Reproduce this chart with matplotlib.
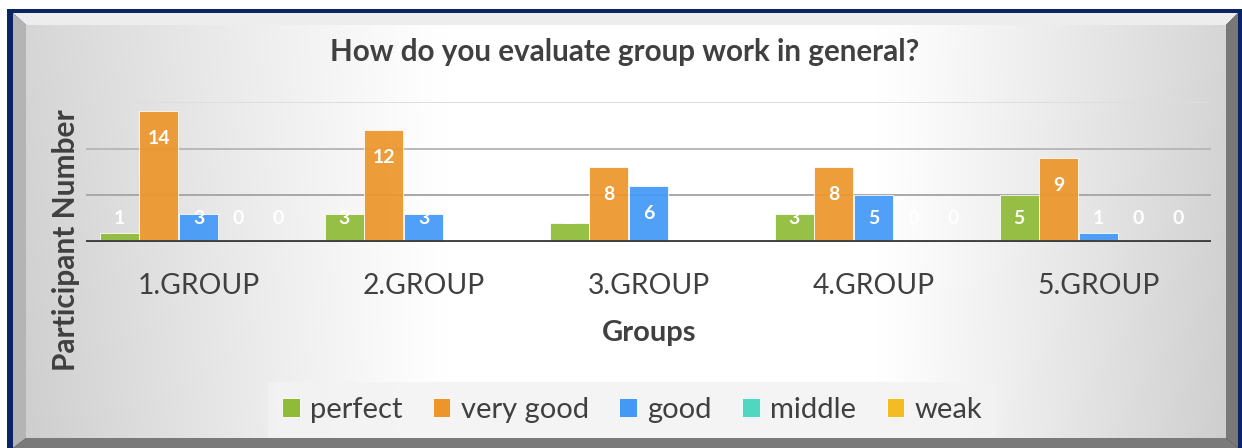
import numpy as np
import matplotlib
matplotlib.use("Agg")
import matplotlib.pyplot as plt
from matplotlib.patches import Polygon, Rectangle, Patch

plt.rcParams['font.family'] = ['Lato', 'DejaVu Sans']

# ---- data ----
groups = ["1.GROUP", "2.GROUP", "3.GROUP", "4.GROUP", "5.GROUP"]
series = ["perfect", "very good", "good", "middle", "weak"]
perfect = [1, 3, 2, 3, 5]
very_good = [14, 12, 8, 8, 9]
good = [3, 3, 6, 5, 1]
middle = [0, 0, 0, 0, 0]
weak = [0, 0, 0, 0, 0]
values = [perfect, very_good, good, middle, weak]
colors = ["#8fbb38", "#ec962a", "#4499f7", "#4fd8bf", "#f3bc22"]

W, H = 1242, 448
fig = plt.figure(figsize=(W / 100, H / 100), dpi=100)

# ---- framed, bevelled background in pixel coordinates ----
bg = fig.add_axes([0, 0, 1, 1])
bg.set_xlim(0, W)
bg.set_ylim(H, 0)
bg.axis("off")

# inner panel gradient: grey at the sides, white plateau in the middle
xs = np.linspace(0, 1, 600)
ys = np.linspace(0, 1, 120)
X, Y = np.meshgrid(xs, ys)
dist = np.where(X < 0.53, (0.35 - X) / 0.35, (X - 0.71) / 0.29)
dist = np.clip(dist, 0, 1)
shade = 1 - 0.16 * dist ** 1.1 - 0.03 * Y * dist
img = np.dstack([shade, shade, shade])
bg.imshow(img, extent=(26, 1226, 438, 25), aspect="auto", zorder=0,
          interpolation="bilinear")

navy = "#0b2462"
bg.add_patch(Rectangle((7, 9), W - 7, H - 9, facecolor=navy, zorder=-1))
# bevel edges
bg.add_patch(Polygon([(13, 13), (1238, 13), (1226, 25), (26, 25)],
                     closed=True, facecolor="#ededed", zorder=1))
bg.add_patch(Polygon([(13, 13), (26, 25), (26, 438), (13, H)],
                     closed=True, facecolor="#b4b4b4", zorder=1))
bg.add_patch(Polygon([(1238, 13), (1238, H), (1226, 438), (1226, 25)],
                     closed=True, facecolor="#787878", zorder=1))
bg.add_patch(Polygon([(26, 438), (1226, 438), (1238, H), (13, H)],
                     closed=True, facecolor="#7a7a7a", zorder=1))

# ---- bar chart ----
left, right = 86 / W, 1211 / W
bottom, top = (H - 242) / H, (H - 102) / H
ax = fig.add_axes([left, bottom, right - left, top - bottom])
ax.set_facecolor("none")

x = np.arange(len(groups))
bw = 0.176
for i, (name, vals, c) in enumerate(zip(series, values, colors)):
    pos = x + (i - 2) * bw
    ax.bar(pos, vals, width=bw * 0.98, color=c, alpha=0.93,
           edgecolor="#ffffff", linewidth=0.6, zorder=3, label=name)
    for px, v in zip(pos, vals):
        ax.text(px, max(v - 2.9, 2.47), str(v), ha="center", va="center",
                color="white", fontsize=14, fontweight="bold", zorder=5)

ax.set_xlim(-0.5, len(groups) - 0.5)
ax.set_ylim(0, 15)
for gy, gc in [(5, "#a8a8a8"), (10, "#b8b8b8"), (15, "#dedede")]:
    ax.axhline(gy, color=gc, lw=1.4, zorder=1)
ax.axhline(0, color="#404040", lw=2.8, zorder=6)
for s in ax.spines.values():
    s.set_visible(False)
ax.set_yticks([])
ax.set_xticks(x)
ax.set_xticklabels(groups, fontsize=20.3, color="#404040")
ax.tick_params(axis="x", length=0, pad=22)

fig.text(625 / W, 1 - 52 / H, "How do you evaluate group work in general?",
         ha="center", va="center", fontsize=21.3, fontweight="bold",
         color="#404040")
fig.text(66 / W, 1 - 240 / H, "Participant Number", rotation=90,
         ha="center", va="center", fontsize=21.5, fontweight="bold",
         color="#404040")
fig.text(649 / W, 1 - 333 / H, "Groups", ha="center", va="center",
         fontsize=21, fontweight="bold", color="#404040")

handles = [Patch(facecolor=c, edgecolor="#ffffff", linewidth=0.6, label=n)
           for n, c in zip(series, colors)]
leg = fig.legend(handles=handles, loc="center", ncol=5,
                 bbox_to_anchor=(632 / W, 1 - 410 / H), frameon=True,
                 fontsize=21, handlelength=0.6, handleheight=0.6,
                 handletextpad=0.35, columnspacing=1.05, borderpad=0.5,
                 borderaxespad=0, fancybox=False)
leg.get_frame().set_facecolor("#f3f3f3")
leg.get_frame().set_edgecolor("none")
leg.get_frame().set_alpha(0.85)
for t in leg.get_texts():
    t.set_color("#404040")

fig.savefig("out.png", dpi=100)
